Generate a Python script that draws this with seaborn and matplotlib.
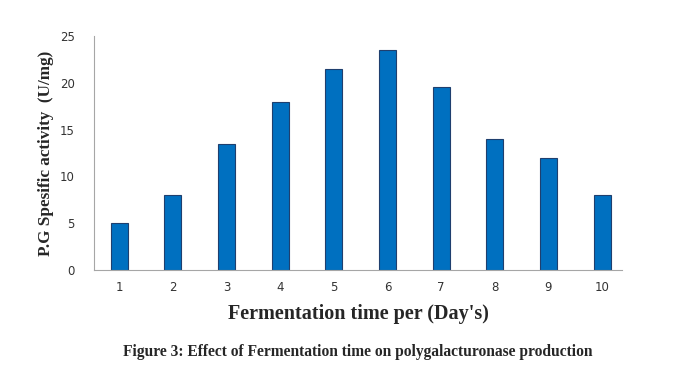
import pandas as pd
import matplotlib.pyplot as plt
import seaborn as sns

# Fermentation days and P.G specific activity (U/mg)
days = ['1', '2', '3', '4', '5', '6', '7', '8', '9', '10']
activity = [5, 8, 13.5, 18, 21.5, 23.5, 19.5, 14, 12, 8]

df = pd.DataFrame({'day': days, 'activity': activity})

sns.set_style("white")

fig = plt.figure(figsize=(6.73, 3.71), dpi=100)
ax = fig.add_axes([0.1397, 0.272, 0.7845, 0.631])

sns.barplot(data=df, x='day', y='activity', color='#0070C0', saturation=1,
            width=0.32, edgecolor='#1F3F6E', linewidth=0.8, ax=ax)

ax.set_ylim(0, 25)
ax.set_xlim(-0.47, 9.37)
ax.set_yticks([0, 5, 10, 15, 20, 25])

# axis styling
for s in ['top', 'right']:
    ax.spines[s].set_visible(False)
ax.spines['left'].set_color('#A6A6A6')
ax.spines['bottom'].set_color('#A6A6A6')
ax.tick_params(length=0, labelsize=8.5, labelcolor='#333333')
ax.tick_params(axis='y', pad=14)
ax.tick_params(axis='x', pad=8)

ax.set_xlabel("Fermentation time per (Day's)", fontfamily='Liberation Serif',
              fontweight='bold', fontsize=14.5, labelpad=7)
ax.set_ylabel("P.G Spesific activity  (U/mg)", fontfamily='Liberation Serif',
              fontweight='bold', fontsize=12.3, labelpad=4)

fig.text(0.532, 0.05, "Figure 3: Effect of Fermentation time on polygalacturonase production",
         ha='center', va='center', fontfamily='Liberation Serif', fontweight='bold', fontsize=11.2)

fig.savefig('out.png', dpi=100)
